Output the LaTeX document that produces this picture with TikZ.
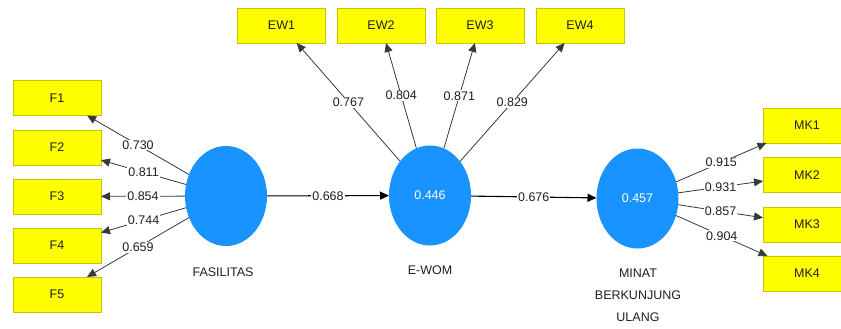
\documentclass[tikz,border=0pt]{standalone}
\usepackage{fontspec}
\setmainfont{Liberation Sans}
\usetikzlibrary{shapes.geometric,arrows.meta}
\definecolor{boxfill}{HTML}{FFFF00}
\definecolor{boxline}{HTML}{C8C400}
\definecolor{latfill}{HTML}{1893FF}
\definecolor{txt}{HTML}{1E1E28}
\definecolor{linecol}{HTML}{383838}
\begin{document}
\begin{tikzpicture}[x=1pt,y=-1pt,
  every node/.style={font=\fontsize{12.5}{22}\selectfont},
  ind/.style={rectangle, draw=boxline, line width=0.8pt, fill=boxfill, minimum width=88pt, minimum height=35pt, inner sep=0pt, outer sep=0pt, text=txt},
  lat/.style={ellipse, fill=latfill, minimum width=82pt, minimum height=100pt, inner sep=0pt, outer sep=0pt, text=white},
  lbl/.style={fill=white, inner sep=1pt, text=txt},
  ldg/.style={draw=linecol, line width=0.8pt, -{Triangle[length=9pt,width=8pt]}},
  pth/.style={draw=black, line width=1.1pt, -{Triangle[length=9pt,width=8pt]}},
  latname/.style={text=txt, align=center}]
\useasboundingbox (0,0) rectangle (841,329);
\clip (0,0) rectangle (841,329);
% latent variables
\node[lat] (fas) at (226,196) {};
\node[lat] (ewom) at (430,195.5) {0.446};
\node[lat] (mk) at (637.5,198.5) {0.457};
\node[latname] (fasname) at (223,272) {FASILITAS};
\node[latname] (ewomname) at (430,270) {E-WOM};
\node[latname] (mkname) at (638,295) {MINAT\\BERKUNJUNG\\ULANG};
% indicators
\node[ind] (F1) at (57,98) {F1};
\node[ind] (F2) at (57,147.5) {F2};
\node[ind] (F3) at (57,196.5) {F3};
\node[ind] (F4) at (57,245.5) {F4};
\node[ind] (F5) at (57,294.5) {F5};
\node[ind] (EW1) at (281.5,25.5) {EW1};
\node[ind] (EW2) at (381,25.5) {EW2};
\node[ind] (EW3) at (480,25.5) {EW3};
\node[ind] (EW4) at (580,25.5) {EW4};
\node[ind] (MK1) at (807,125.5) {MK1};
\node[ind] (MK2) at (807,175) {MK2};
\node[ind] (MK3) at (807,224.5) {MK3};
\node[ind] (MK4) at (807,273.5) {MK4};
% loadings
\draw[ldg] (fas) -- node[lbl] {0.730} (F1);
\draw[ldg] (fas) -- node[lbl] {0.811} (F2);
\draw[ldg] (fas) -- node[lbl] {0.854} (F3);
\draw[ldg] (fas) -- node[lbl] {0.744} (F4);
\draw[ldg] (fas) -- node[lbl] {0.659} (F5);
\draw[ldg] (ewom) -- node[lbl] {0.767} (EW1);
\draw[ldg] (ewom) -- node[lbl] {0.804} (EW2);
\draw[ldg] (ewom) -- node[lbl] {0.871} (EW3);
\draw[ldg] (ewom) -- node[lbl] {0.829} (EW4);
\draw[ldg] (mk) -- node[lbl] {0.915} (MK1);
\draw[ldg] (mk) -- node[lbl] {0.931} (MK2);
\draw[ldg] (mk) -- node[lbl] {0.857} (MK3);
\draw[ldg] (mk) -- node[lbl] {0.904} (MK4);
% paths
\draw[pth] (fas) -- node[lbl] {0.668} (ewom);
\draw[pth] (ewom) -- node[lbl] {0.676} (mk);
\end{tikzpicture}
\end{document}
